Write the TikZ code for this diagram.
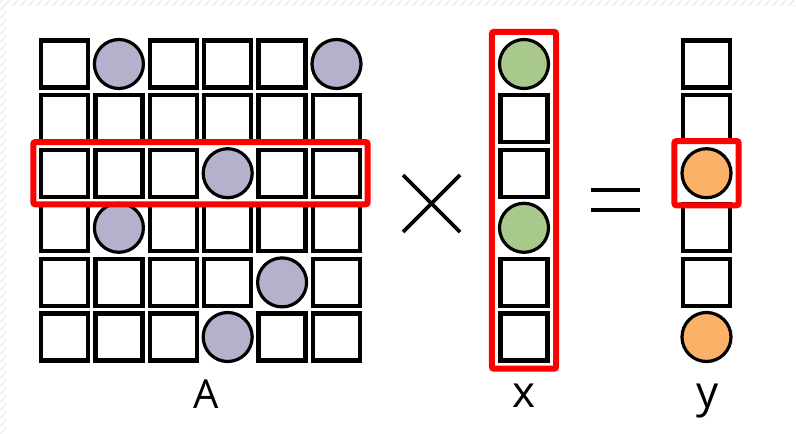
\documentclass[tikz,border=0pt]{standalone}
\usepackage{fontspec}
\setmainfont{Open Sans}
\usetikzlibrary{fit}
\definecolor{lav}{HTML}{B3B1CC}
\definecolor{grn}{HTML}{A9C98C}
\definecolor{org}{HTML}{FBB167}
\definecolor{redf}{HTML}{FF0000}
\tikzset{
  cellbox/.style={draw=black, line width=4.3pt, fill=white, minimum size=47pt, inner sep=0pt},
  dotbase/.style={circle, draw=black, line width=3.2pt, minimum size=49pt, inner sep=0pt},
  adot/.style={dotbase, fill=lav},
  xdot/.style={dotbase, fill=grn},
  ydot/.style={dotbase, fill=org},
  redframe/.style={draw=redf, line width=6pt, rounded corners=2pt, inner sep=5.5pt},
  opline/.style={line width=3.6pt, black},
  lbl/.style={anchor=base, inner sep=0pt},
  hatch/.style={draw=gray!12, line width=2pt}
}
\begin{document}
\begin{tikzpicture}[x=1pt,y=-1pt]
\useasboundingbox (0,0) rectangle (796,434);
\fill[white] (0,0) rectangle (796,434);
% faint hatched border
\begin{scope}
  \clip (0,0) rectangle (796,6) (0,0) rectangle (6,434);
  \foreach \i in {-440,-432,...,800} \draw[hatch] (\i,434) -- (\i+434,0);
\end{scope}
% matrix A
\foreach \row [count=\r] in {{0,1,0,0,0,1},{0,0,0,0,0,0},{0,0,0,1,0,0},{0,1,0,0,0,0},{0,0,0,0,1,0},{0,0,0,1,0,0}}{
  \foreach \v [count=\c] in \row {
    \ifnum\v=1
      \node[adot] (A-\r-\c) at ({64.5+54.4*(\c-1)},{64+54.6*(\r-1)}) {};
    \else
      \node[cellbox] (A-\r-\c) at ({64.5+54.4*(\c-1)},{64+54.6*(\r-1)}) {};
    \fi
  }
}
% vector x
\foreach \v [count=\r] in {1,0,0,1,0,0}{
  \ifnum\v=1
    \node[xdot] (x-\r) at (524,{64+54.6*(\r-1)}) {};
  \else
    \node[cellbox] (x-\r) at (524,{64+54.6*(\r-1)}) {};
  \fi
}
% vector y
\foreach \v [count=\r] in {0,0,1,0,0,1}{
  \ifnum\v=1
    \node[ydot] (y-\r) at (706.5,{64+54.6*(\r-1)}) {};
  \else
    \node[cellbox] (y-\r) at (706.5,{64+54.6*(\r-1)}) {};
  \fi
}
% red frames
\node[redframe, fit=(A-3-1)(A-3-6)] (rowA) {};
\node[redframe, fit=(x-1)(x-6), inner sep=6pt] (colx) {};
\node[redframe, fit=(y-3), inner sep=6pt] (rowy) {};
% operators
\coordinate (t1) at (403,175); \coordinate (t2) at (460,232);
\coordinate (t3) at (403,232); \coordinate (t4) at (460,175);
\draw[opline] (t1) -- (t2);
\draw[opline] (t3) -- (t4);
\coordinate (e1) at (591,190); \coordinate (e2) at (640,190);
\coordinate (e3) at (591,210); \coordinate (e4) at (640,210);
\draw[opline] (e1) -- (e2);
\draw[opline] (e3) -- (e4);
% labels
\node[lbl, font=\fontsize{40}{40}\selectfont] (labA) at (206.5,408) {A};
\node[lbl, font=\fontsize{44}{44}\selectfont] (labx) at (524,407) {x};
\node[lbl, font=\fontsize{44}{44}\selectfont] (laby) at (708,407) {y};
\end{tikzpicture}
\end{document}
